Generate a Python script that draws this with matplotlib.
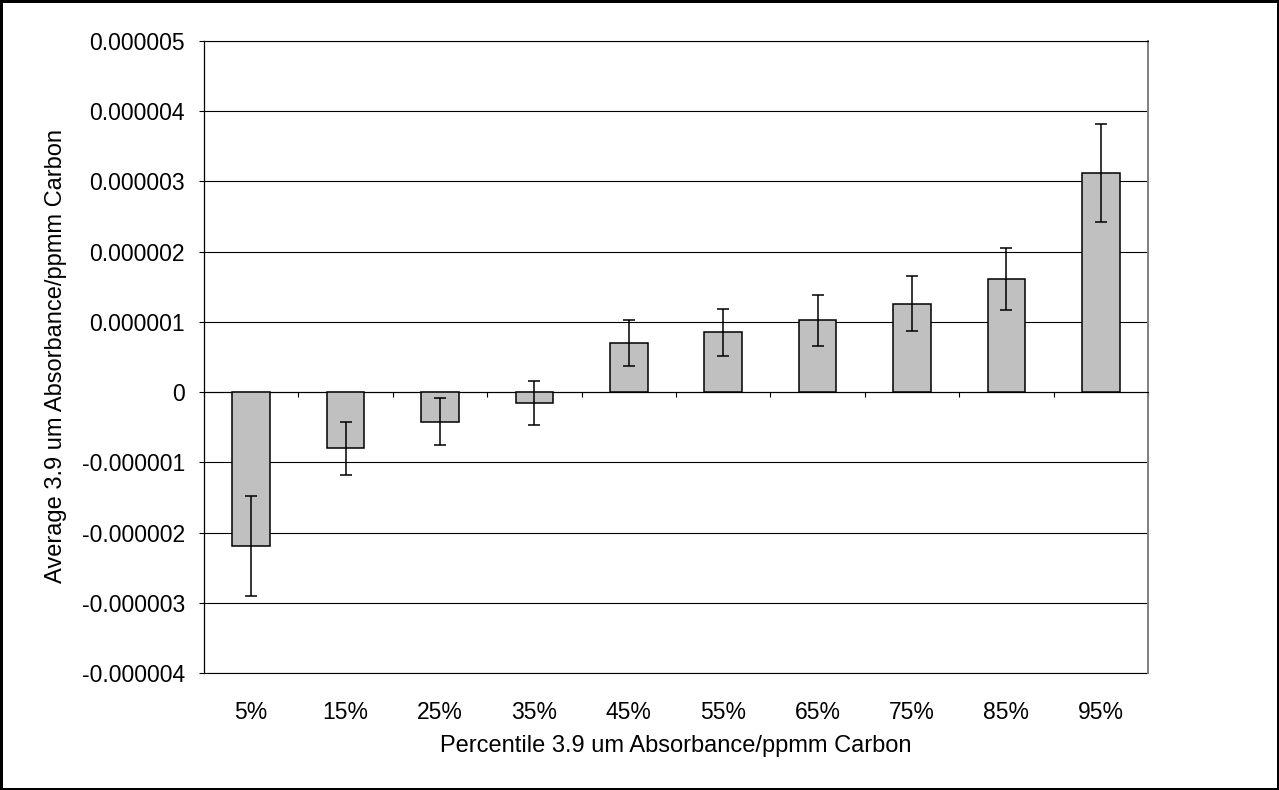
import matplotlib
matplotlib.use("Agg")
import matplotlib.pyplot as plt
from matplotlib.ticker import FuncFormatter, FixedLocator
import numpy as np

plt.rcParams['font.family'] = ['Liberation Sans', 'DejaVu Sans']

# Percentile bins and their mean absorbance per ppmm carbon, with error half-widths
categories = ["5%", "15%", "25%", "35%", "45%", "55%", "65%", "75%", "85%", "95%"]
means = [-2.19e-6, -0.80e-6, -0.42e-6, -0.155e-6, 0.70e-6,
         0.85e-6, 1.02e-6, 1.26e-6, 1.61e-6, 3.12e-6]
errors = [0.71e-6, 0.375e-6, 0.335e-6, 0.31e-6, 0.33e-6,
          0.34e-6, 0.36e-6, 0.39e-6, 0.44e-6, 0.70e-6]
y_ticks = [-4e-6, -3e-6, -2e-6, -1e-6, 0, 1e-6, 2e-6, 3e-6, 4e-6, 5e-6]

W, H, DPI = 1279, 790, 100
fig = plt.figure(figsize=(W / DPI, H / DPI), dpi=DPI,
                 edgecolor="black", linewidth=3.6)
ax = fig.add_axes([204 / W, 1 - 673 / H, (1148 - 204) / W, (673 - 41) / H])

x = np.arange(len(categories))
ax.bar(x, means, width=0.4, color="#C0C0C0", edgecolor="black",
       linewidth=1.1, zorder=3)
ax.errorbar(x, means, yerr=errors, fmt="none", ecolor="black",
            elinewidth=1.1, capsize=4.5, capthick=1.1, zorder=4)

ax.set_xlim(-0.5, len(categories) - 0.5)
ax.set_ylim(y_ticks[0], y_ticks[-1])

# horizontal gridlines (the lowest one doubles as the bottom edge of the plot)
ax.yaxis.set_major_locator(FixedLocator(y_ticks))
ax.yaxis.grid(True, color="black", linewidth=0.8, zorder=0)
ax.set_axisbelow(True)
ax.axhline(y_ticks[0], color="black", linewidth=0.8, clip_on=False, zorder=1)
ax.yaxis.set_major_formatter(FuncFormatter(lambda v, p: "0" if abs(v) < 1e-12 else f"{v:.6f}"))
ax.tick_params(axis="y", direction="out", length=3.6, width=0.8,
               pad=10, labelsize=16.5, colors="black")

# category axis crosses at zero, with tick marks at the bin boundaries
ax.spines["bottom"].set_position(("data", 0))
ax.spines["bottom"].set_linewidth(0.8)
ax.xaxis.set_major_locator(FixedLocator(np.arange(-0.5, len(categories), 1.0)))
ax.tick_params(axis="x", direction="out", length=3.6, width=0.8,
               labelbottom=False)

ax.spines["left"].set_linewidth(0.9)
ax.spines["top"].set_linewidth(0.8)
ax.spines["right"].set_color("#808080")
ax.spines["right"].set_linewidth(1.4)

# category labels along the bottom edge of the plot
sec = ax.secondary_xaxis(0)
sec.set_xticks(x)
sec.set_xticklabels(categories)
sec.tick_params(length=0, pad=20, labelsize=16.5)
sec.spines["bottom"].set_visible(False)

fig.text(676 / W, 1 - 746 / H, "Percentile 3.9 um Absorbance/ppmm Carbon",
         ha="center", va="center", fontsize=17)
fig.text(56 / W, 1 - 356 / H, "Average 3.9 um Absorbance/ppmm Carbon",
         ha="center", va="center", rotation=90, fontsize=17)

fig.savefig("out.png", dpi=DPI, edgecolor=fig.get_edgecolor())
